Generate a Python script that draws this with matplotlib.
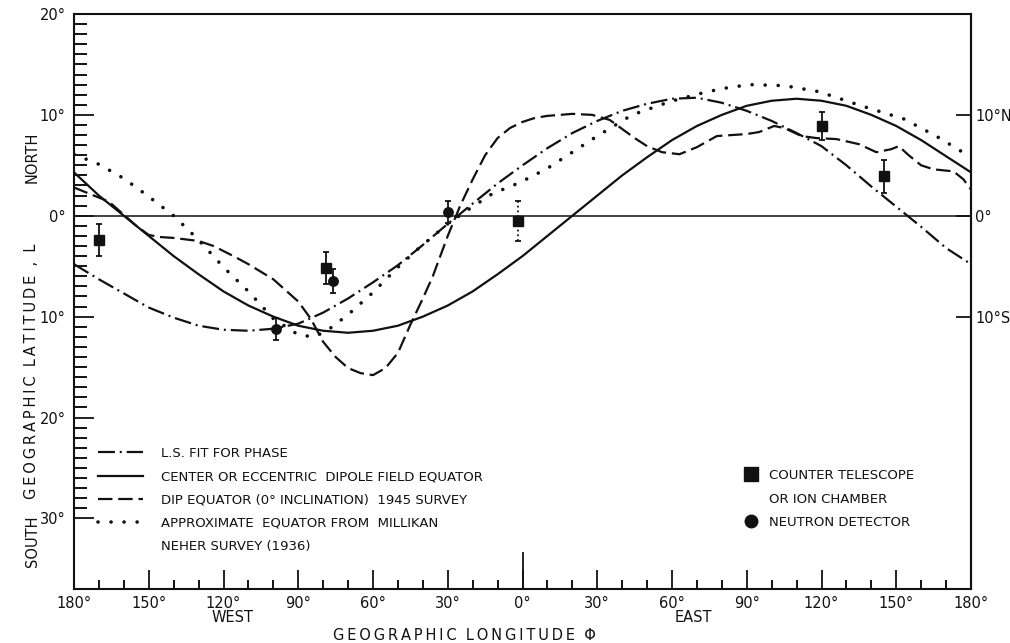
import matplotlib
matplotlib.use("Agg")
import matplotlib.pyplot as plt
from matplotlib.lines import Line2D
from matplotlib.ticker import FixedLocator

# ---------------- data ----------------
dipole_lon = [-180, -170, -160, -150, -140, -130, -120, -110, -100, -90, -80, -70,
              -60, -50, -40, -30, -20, -10, 0, 10, 20, 30, 40, 50, 60, 70, 80, 90,
              100, 110, 120, 130, 140, 150, 160, 170, 180]
dipole_lat = [4.3, 2.0, 0.0, -2.0, -4.0, -5.8, -7.5, -8.9, -10.0, -10.9, -11.4, -11.6,
              -11.4, -10.9, -10.0, -8.9, -7.5, -5.8, -4.0, -2.0, 0.0, 2.0, 4.0, 5.8,
              7.5, 8.9, 10.0, 10.9, 11.4, 11.6, 11.4, 10.9, 10.0, 8.9, 7.5, 5.9, 4.3]

lsfit_lon = [-180, -170, -160, -150, -140, -130, -120, -110, -100, -90, -80, -70,
             -60, -50, -40, -30, -20, -10, 0, 10, 20, 30, 40, 50, 60, 70, 80, 90,
             100, 110, 120, 130, 140, 150, 160, 170, 180]
lsfit_lat = [-4.8, -6.3, -7.7, -9.1, -10.1, -10.9, -11.3, -11.4, -11.2, -10.7, -9.6,
             -8.2, -6.6, -4.9, -2.9, -0.8, 1.2, 3.2, 5.0, 6.7, 8.2, 9.4, 10.4, 11.1,
             11.6, 11.7, 11.2, 10.4, 9.4, 8.2, 6.9, 5.0, 2.9, 0.9, -1.1, -3.2, -4.8]

dip_lon = [-180, -172, -166, -160, -155, -150, -146, -140, -130, -124, -116, -110,
           -100, -90, -85, -80, -75, -70, -65, -60, -55, -50, -45, -40, -36, -30,
           -25, -20, -15, -10, -5, 0, 5, 10, 20, 28, 35, 40, 45, 50, 56, 63, 70, 78,
           90, 95, 101, 105, 112, 118, 126, 135, 142, 148, 151, 155, 160, 165, 173,
           177, 180]
dip_lat = [2.8, 2.0, 1.4, 0.1, -1.0, -1.9, -2.1, -2.2, -2.5, -3.0, -4.0, -4.8,
           -6.3, -8.5, -10.2, -12.5, -14.0, -15.1, -15.6, -15.8, -15.1, -13.6, -10.8,
           -8.2, -6.0, -2.0, 1.0, 3.6, 6.0, 7.7, 8.7, 9.3, 9.7, 9.9, 10.1, 10.0, 9.5,
           8.6, 7.7, 6.9, 6.3, 6.1, 6.8, 7.9, 8.1, 8.3, 8.9, 8.7, 7.9, 7.7, 7.6, 7.1,
           6.3, 6.6, 6.9, 6.0, 5.0, 4.6, 4.4, 3.6, 2.6]

millikan_lon = [-180, -170, -160, -150, -140, -130, -120, -110, -100, -90, -84, -79,
                -70, -60, -50, -42, -30, -20, -12, -1, 10, 20, 30, 44, 59, 71, 80,
                91, 105, 119, 136, 153, 166, 180]
millikan_lat = [6.1, 5.1, 3.7, 1.9, 0.0, -2.4, -5.1, -7.5, -10.2, -11.8, -12.0, -11.5,
                -9.8, -7.6, -5.1, -3.3, -0.8, 0.9, 2.2, 3.3, 4.7, 6.3, 7.9, 10.0, 11.3,
                12.1, 12.6, 13.0, 12.9, 12.3, 10.9, 9.6, 7.9, 5.8]

counter_lon = [-170, -79, -2, 120, 145]
counter_lat = [-2.4, -5.2, -0.5, 8.9, 3.9]
counter_err = [1.6, 1.6, 2.0, 1.4, 1.6]
counter_dotted = [False, False, True, False, False]

neutron_lon = [-99, -76, -30]
neutron_lat = [-11.2, -6.5, 0.4]
neutron_err = [1.1, 1.2, 1.1]

x_ticks = [-180, -150, -120, -90, -60, -30, 0, 30, 60, 90, 120, 150, 180]
x_tick_labels = ["180°", "150°", "120°", "90°", "60°", "30°", "0°", "30°", "60°",
                 "90°", "120°", "150°", "180°"]
x_minor = [-170, -160, -140, -130, -110, -100, -80, -70, -50, -40, -20, -10,
           10, 20, 40, 50, 70, 80, 100, 110, 130, 140, 160, 170]
y_ticks = [20, 10, 0, -10, -20, -30]
y_tick_labels = ["20°", "10°", "0°", "10°", "20°", "30°"]
y_minor = list(range(-30, 21))
right_ticks = [10, 0, -10]
right_labels = ["10°N", "0°", "10°S"]

legend_lines = ["L.S. FIT FOR PHASE",
                "CENTER OR ECCENTRIC  DIPOLE FIELD EQUATOR",
                "DIP EQUATOR (0° INCLINATION)  1945 SURVEY",
                "APPROXIMATE  EQUATOR FROM  MILLIKAN",
                "NEHER SURVEY (1936)"]
legend_points = ["COUNTER TELESCOPE", "OR ION CHAMBER", "NEUTRON DETECTOR"]

# ---------------- figure ----------------
W, H = 1010, 643
plt.rcParams['font.family'] = ['DejaVu Sans']
fig = plt.figure(figsize=(W / 100, H / 100), dpi=100)
ax = fig.add_axes([74 / W, 1 - 589 / H, (971 - 74) / W, (589 - 14) / H])
ax.set_xlim(-180, 180)
ax.set_ylim(-37, 20)

ink = '#111111'
lw = 1.6

ax.axhline(0, color=ink, lw=1.1, zorder=1)

l_ls, = ax.plot(lsfit_lon, lsfit_lat, color=ink, lw=lw,
                linestyle=(0, (7.6, 2.2, 0.9, 2.2)))
l_dip, = ax.plot(dipole_lon, dipole_lat, color=ink, lw=lw, linestyle='-')
l_dash, = ax.plot(dip_lon, dip_lat, color=ink, lw=lw, linestyle=(0, (6.5, 2.6)))
l_dot, = ax.plot(millikan_lon, millikan_lat, color=ink, lw=2.6,
                 linestyle=(0, (0.01, 3.6)), dash_capstyle='round')

for lon, lat, err, dotted in zip(counter_lon, counter_lat, counter_err, counter_dotted):
    cont = ax.errorbar([lon], [lat], yerr=[err], fmt='s', color=ink, ms=6.5,
                       capsize=2.4, elinewidth=1.3, capthick=1.3, zorder=5)
    if dotted:
        cont[2][0].set_linestyle(':')
ax.errorbar(neutron_lon, neutron_lat, yerr=neutron_err, fmt='o', color=ink, ms=6.8,
            capsize=2.4, elinewidth=1.3, capthick=1.3, zorder=5)

# ticks
ax.set_xticks(x_ticks)
ax.set_xticklabels(x_tick_labels)
ax.xaxis.set_minor_locator(FixedLocator(x_minor))
ax.set_yticks(y_ticks)
ax.set_yticklabels(y_tick_labels)
ax.yaxis.set_minor_locator(FixedLocator(y_minor))
ax.tick_params(axis='x', which='major', direction='in', length=13.5, width=1.3,
               pad=5, labelsize=10.5, colors=ink)
ax.tick_params(axis='x', which='minor', direction='in', length=6.5, width=1.3)
ax.tick_params(axis='y', which='major', direction='in', length=14.5, width=1.3,
               pad=6, labelsize=10.5, colors=ink)
ax.tick_params(axis='y', which='minor', direction='in', length=9, width=1.3)
ax.axvline(0, ymin=0, ymax=36 / 575, color=ink, lw=1.3)

sec = ax.secondary_yaxis('right')
sec.set_yticks(right_ticks)
sec.set_yticklabels(right_labels)
sec.tick_params(direction='in', length=11, width=1.3, pad=3, labelsize=10.5,
                colors=ink)
for s in ax.spines.values():
    s.set_linewidth(1.5)
    s.set_color(ink)
sec.spines['right'].set_linewidth(1.5)

# axis texts
thin = "\u2009"
fig.text(32 / W, 1 - 157 / H, "NORTH", rotation=90, ha='center', va='center',
         fontsize=10.5, color=ink)
ylabel = "  ".join(thin.join(w) for w in ["GEOGRAPHIC", "LATITUDE", ",", "L"])
fig.text(32 / W, 1 - 371 / H, ylabel, rotation=90,
         ha='center', va='center', fontsize=10.5, color=ink)
fig.text(32 / W, 1 - 541 / H, "SOUTH", rotation=90, ha='center', va='center',
         fontsize=10.5, color=ink)
xlabel = "  ".join(thin.join(w) for w in ["GEOGRAPHIC", "LONGITUDE", "Φ"])
fig.text(464 / W, 1 - 635 / H, xlabel, ha='center', va='center', fontsize=10.5,
         color=ink)
fig.text(233 / W, 1 - 618 / H, "WEST", ha='center', va='center', fontsize=10.5,
         color=ink)
fig.text(693 / W, 1 - 617 / H, "EAST", ha='center', va='center', fontsize=10.5,
         color=ink)

# legends
blank = Line2D([], [], linestyle='none')
leg1 = ax.legend([l_ls, l_dip, l_dash, l_dot, blank], legend_lines,
                 loc='upper left', bbox_to_anchor=(98 / W, 1 - 447 / H),
                 bbox_transform=fig.transFigure, frameon=False, fontsize=9.5,
                 handlelength=3.4, handletextpad=1.4, labelspacing=0.78,
                 borderpad=0, borderaxespad=0)
for t in leg1.get_texts():
    t.set_color(ink)
ax.add_artist(leg1)

sq = Line2D([], [], linestyle='none', marker='s', color=ink, ms=10)
ci = Line2D([], [], linestyle='none', marker='o', color=ink, ms=9)
leg2 = ax.legend([sq, blank, ci], legend_points, loc='upper left',
                 bbox_to_anchor=(744 / W, 1 - 469 / H),
                 bbox_transform=fig.transFigure, frameon=False, fontsize=9.5,
                 handlelength=1.0, handletextpad=0.86, labelspacing=0.8,
                 borderpad=0, borderaxespad=0)
for t in leg2.get_texts():
    t.set_color(ink)

fig.savefig("out.png", dpi=100)
